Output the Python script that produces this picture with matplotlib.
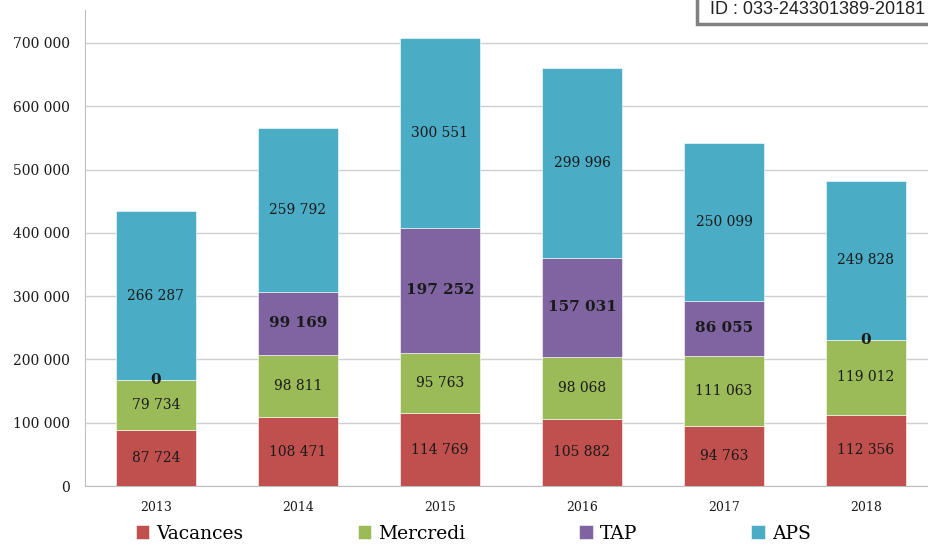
import matplotlib.pyplot as plt
from matplotlib.patches import Rectangle
import numpy as np

years = ["2013", "2014", "2015", "2016", "2017", "2018"]
vacances = [87724, 108471, 114769, 105882, 94763, 112356]
mercredi = [79734, 98811, 95763, 98068, 111063, 119012]
tap = [0, 99169, 197252, 157031, 86055, 0]
aps = [266287, 259792, 300551, 299996, 250099, 249828]

series = [
    ("Vacances", vacances, "#C0504D", False),
    ("Mercredi", mercredi, "#9BBB59", False),
    ("TAP", tap, "#8064A2", True),
    ("APS", aps, "#4BACC6", False),
]


def fmt(v):
    return f"{v:,}".replace(",", " ")


plt.rcParams['font.family'] = ['DejaVu Serif']

fig = plt.figure(figsize=(9.29, 5.55), dpi=100)
ax = fig.add_axes([85 / 929, 69 / 555, 852 / 929, 476 / 555])

x = np.arange(len(years))
bottom = np.zeros(len(years))
for name, vals, color, bold in series:
    vals = np.array(vals, dtype=float)
    ax.bar(x, vals, 0.57, bottom=bottom, color=color, label=name,
           edgecolor="white", linewidth=0.4, zorder=3)
    for xi, b, v in zip(x, bottom, vals):
        isbold = bold or v == 0
        ax.text(xi, b + v / 2, fmt(int(v)), ha="center", va="center",
                fontsize=11 if isbold else 10,
                fontweight="bold" if isbold else "normal",
                color="#1a1a1a", zorder=4)
    bottom += vals

ax.set_xlim(-0.5, 5.5)
ax.set_ylim(0, 752000)
ax.set_yticks(np.arange(0, 800000, 100000))
ax.set_yticklabels([fmt(t) for t in range(0, 800000, 100000)], fontsize=10)
ax.set_xticks(x)
ax.set_xticklabels(years, fontsize=9)
ax.yaxis.grid(True, color="#D0D0D0", linewidth=1, zorder=0)
ax.tick_params(axis="x", length=0, pad=11, colors="#1a1a1a")
ax.tick_params(axis="y", length=0, pad=11, colors="#1a1a1a")
for s in ["top", "right"]:
    ax.spines[s].set_visible(False)
for s in ["left", "bottom"]:
    ax.spines[s].set_color("#BFBFBF")

leg = fig.legend(loc="lower left", bbox_to_anchor=(119 / 929, -0.008), ncol=4,
                 frameon=False, fontsize=13.5, handlelength=0.7, handleheight=0.7,
                 handletextpad=0.4, columnspacing=6.08)

# identifiant en haut à droite
fig.patches.append(Rectangle((697 / 929, 531 / 555), 240 / 929, 30 / 555,
                             transform=fig.transFigure, facecolor="white",
                             edgecolor="#808080", linewidth=2.5, zorder=5))
fig.text(710 / 929, 545 / 555, "ID : 033-243301389-20181", fontsize=13,
         family="Liberation Sans", color="#222222", va="center", zorder=6)

fig.savefig("out.png", dpi=100)
